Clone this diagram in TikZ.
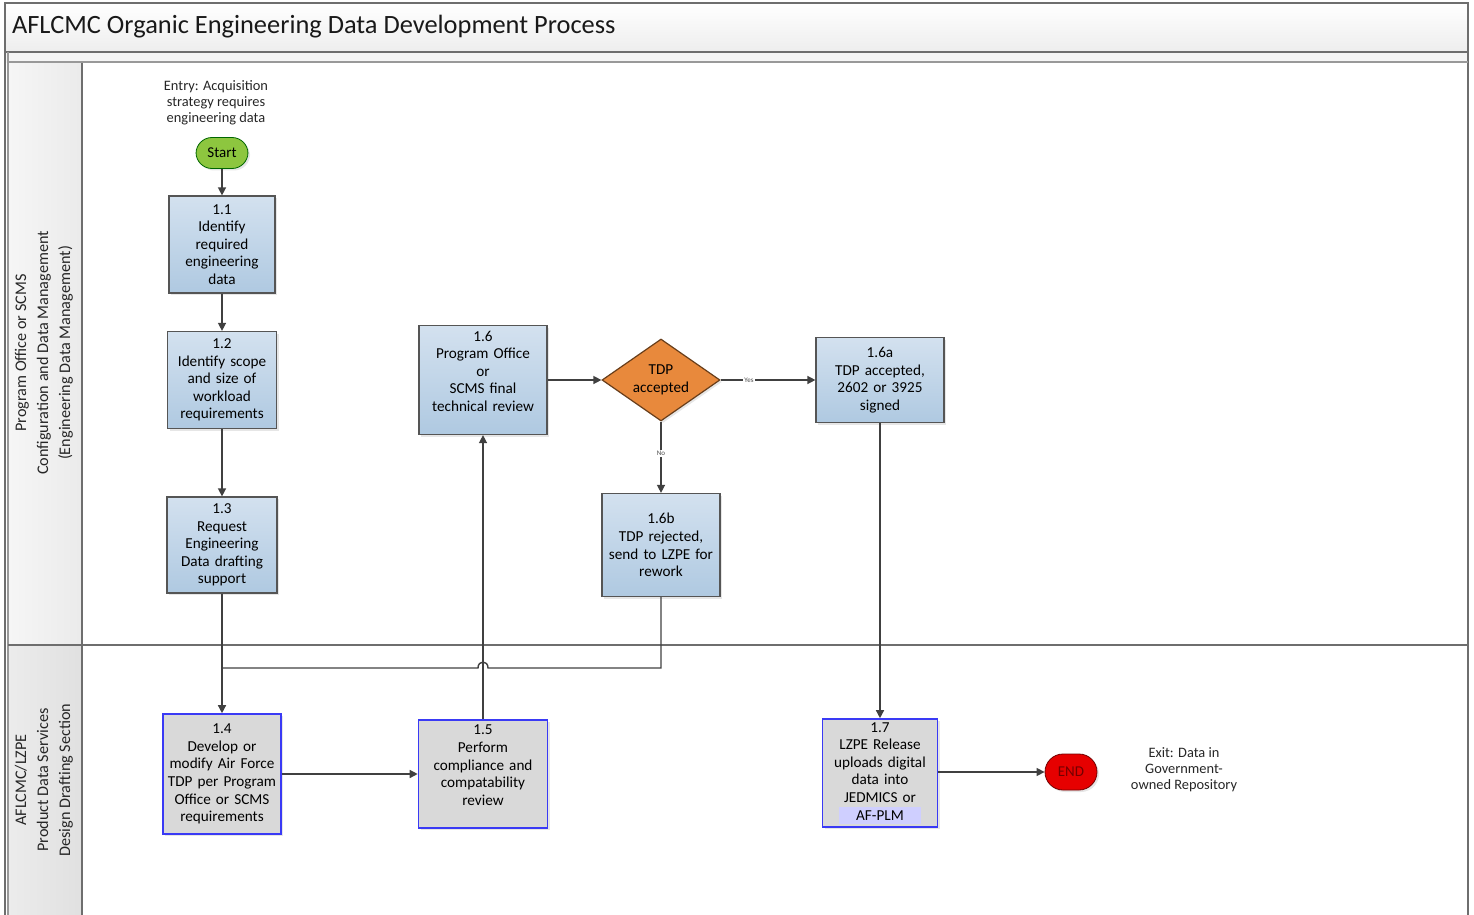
\documentclass[tikz,border=0pt]{standalone}
\usepackage{fontspec}
\setmainfont{Carlito}
\usetikzlibrary{arrows.meta,shapes.geometric,shadows}

\definecolor{boxtop}{HTML}{D3E1EF}
\definecolor{boxbot}{HTML}{AFC9E1}
\definecolor{boxline}{HTML}{555555}
\definecolor{bluebord}{HTML}{3A3AF5}
\definecolor{grayfill}{HTML}{D9D9D9}
\definecolor{startgreen}{HTML}{8DC63F}
\definecolor{tdporange}{HTML}{E8893C}
\definecolor{endred}{HTML}{E60000}
\definecolor{plmband}{HTML}{CFCFFF}
\definecolor{framegray}{HTML}{6E6E6E}

\newcommand{\boxfont}{\fontsize{7.6}{8.8}\selectfont}
\newcommand{\notefont}{\fontsize{7.2}{8}\selectfont}

\begin{document}
\begin{tikzpicture}[x=0.5pt,y=-0.5pt,
        proc/.style={draw=boxline,line width=0.6pt,top color=boxtop,bottom color=boxbot,
            align=center,font=\boxfont,inner sep=1pt,
            drop shadow={shadow xshift=1pt,shadow yshift=-1pt,opacity=0.2}},
        lzpe/.style={draw=bluebord,line width=0.8pt,fill=grayfill,
            align=center,font=\boxfont,inner sep=1pt,
            drop shadow={shadow xshift=1pt,shadow yshift=-1pt,opacity=0.2}},
        term/.style={rounded corners=8pt,font=\fontsize{7.5}{8}\selectfont,inner sep=0pt,
            drop shadow={shadow xshift=1pt,shadow yshift=-1pt,opacity=0.2}},
        note/.style={align=center,font=\notefont,text=black!85},
        lanelbl/.style={align=center,rotate=90,font=\fontsize{8.1}{11}\selectfont,text=black!85},
        frame/.style={draw=framegray,line width=0.9pt},
        arr/.style={draw=black!75,line width=0.7pt,-{Triangle[length=4pt,width=4pt]}},
        link/.style={draw=black!75,line width=0.7pt},
        lbl/.style={font=\fontsize{3.5}{4}\selectfont,fill=white,inner sep=0.5pt,text=black!70}]
\useasboundingbox (0,0) rectangle (1474,915);

% pool and lanes
\shade[top color=white,bottom color=gray!14] (5,3) rectangle (1468,52);
\fill[gray!8] (5,52) rectangle (1468,63);
\shade[left color=gray!7,right color=gray!16] (8,63) rectangle (82,645);
\shade[left color=gray!15,right color=gray!24] (8,645) rectangle (82,915);
\draw[frame] (5,915) |- (1468,3) -- (1468,915);
\draw[frame] (5,52) -- (1468,52);
\draw[draw=framegray!70,line width=0.6pt] (8,62) -- (1468,62);
\draw[draw=framegray!70,line width=0.6pt] (8,52) -- (8,915);
\draw[draw=framegray,line width=0.6pt] (82,63) -- (82,915);
\draw[frame] (8,645) -- (1468,645);

\node[anchor=west,font=\fontsize{13.2}{15}\selectfont,text=black!90] (title) at (5,27)
    {AFLCMC Organic Engineering Data Development Process};
\node[lanelbl] (lane1) at (44,353)
    {Program Office or SCMS\\Configuration and Data Management\\(Engineering Data Management)};
\node[lanelbl] (lane2) at (44,780)
    {AFLCMC/LZPE\\Product Data Services\\Design Drafting Section};

% steps
\node[note] (entry) at (216,103) {Entry: Acquisition\\strategy requires\\engineering data};
\node[term,draw=black!60!green,fill=startgreen,minimum width=26pt,minimum height=15.5pt] (start) at (222,153) {Start};
\node[proc,minimum width=53pt,minimum height=48.5pt,text width=51pt] (b11) at (222,244.5)
    {1.1\\Identify\\required\\engineering\\data};
\node[proc,minimum width=54.5pt,minimum height=48.5pt,text width=52.5pt] (b12) at (222,380)
    {1.2\\Identify scope\\and size of\\workload\\requirements};
\node[proc,minimum width=55pt,minimum height=48pt,text width=53pt] (b13) at (222,545)
    {1.3\\Request\\Engineering\\Data drafting\\support};
\node[proc,minimum width=64pt,minimum height=54.5pt,text width=62pt] (b16) at (483,380)
    {1.6\\Program Office\\or\\SCMS final\\technical review\\\mbox{}};
\node[diamond,draw=black!55!tdporange,line width=0.6pt,fill=tdporange,aspect=1.44,inner sep=0pt,
    minimum width=59pt,minimum height=41pt,align=center,font=\boxfont,
    drop shadow={shadow xshift=1pt,shadow yshift=-1pt,opacity=0.2}] (tdp) at (661,380) {TDP\\accepted};
\node[proc,minimum width=64pt,minimum height=42.5pt,text width=62pt] (b16a) at (880,380)
    {1.6a\\TDP accepted,\\2602 or 3925\\signed};
\node[proc,minimum width=59pt,minimum height=51.5pt,text width=57pt] (b16b) at (661,545)
    {1.6b\\TDP rejected,\\send to LZPE for\\rework};
\node[lzpe,minimum width=59pt,minimum height=60pt,text width=57pt] (b14) at (222,774)
    {1.4\\Develop or\\modify Air Force\\TDP per Program\\Office or SCMS\\requirements};
\node[lzpe,minimum width=64.5pt,minimum height=54pt,text width=62pt] (b15) at (483,774)
    {1.5\\Perform\\compliance and\\compatability\\review\\\mbox{}};
\node[lzpe,minimum width=57.5pt,minimum height=54pt,text width=55pt] (b17) at (880,773)
    {1.7\\LZPE Release\\uploads digital\\data into\\JEDMICS or\\{\setlength{\fboxsep}{1.8pt}\colorbox{plmband}{\makebox[37pt]{AF-PLM}}}};
\node[term,draw=black!50!endred,fill=endred,text=black!50!endred,minimum width=26pt,minimum height=18pt,
    rounded corners=9pt] (endn) at (1071,772) {END};
\node[note] (exit) at (1184,770) {Exit: Data in\\Government-\\owned Repository};

% flow
\draw[arr] (start) -- (b11);
\draw[arr] (b11) -- (b12);
\draw[arr] (b12) -- (b13);
\draw[arr] (b13) -- (b14);
\coordinate (join) at (222,668);
\draw[link] (b16b.south) |- (488,668) .. controls (488,660) and (478,660) .. (478,668) -- (join);
\draw[arr] (b14) -- (b15);
\draw[arr] (b15) -- (b16);
\draw[arr] (b16) -- (tdp);
\draw[arr] (tdp) -- node[lbl,pos=0.3] {Yes} (b16a);
\draw[arr] (tdp) -- node[lbl,pos=0.45] {No} (b16b);
\draw[arr] (b16a) -- (b17);
\draw[arr] (b17.east |- endn) -- (endn);
\end{tikzpicture}
\end{document}
